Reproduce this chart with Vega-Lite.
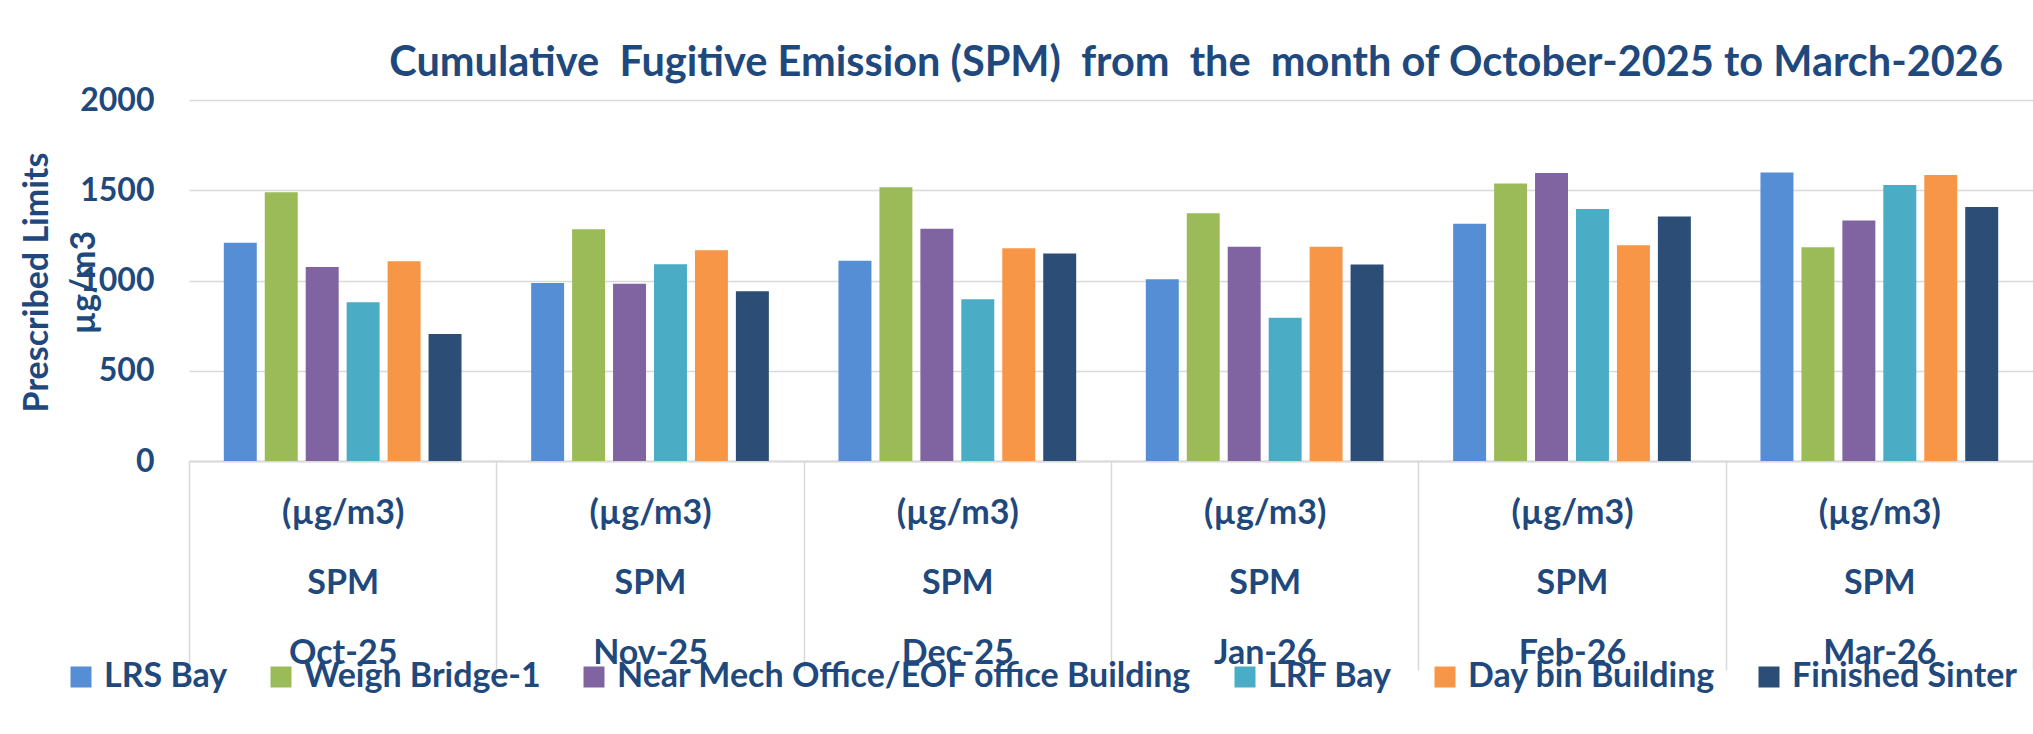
{
  "$schema": "https://vega.github.io/schema/vega-lite/v6.json",
  "autosize": {"type": "none"},
  "padding": {"left": 189, "top": 100, "right": 0, "bottom": 273},
  "width": 1844,
  "height": 361,
  "background": "white",
  "config": {
    "font": "Lato",
    "view": {"stroke": null},
    "text": {"font": "Lato"}
  },
  "title": {
    "text": "Cumulative\u00a0 Fugitive Emission (SPM)\u00a0 from\u00a0 the\u00a0 month of October-2025 to March-2026",
    "anchor": "end",
    "frame": "group",
    "dx": -30,
    "offset": 0,
    "fontSize": 41.5,
    "font": "Lato",
    "fontWeight": "bold",
    "color": "#1F497D"
  },
  "data": {
    "values": [
      {"month": "Oct-25", "site": "LRS Bay", "value": 1209},
      {"month": "Oct-25", "site": "Weigh Bridge-1", "value": 1489},
      {"month": "Oct-25", "site": "Near Mech Office/EOF office Building", "value": 1075},
      {"month": "Oct-25", "site": "LRF Bay", "value": 879},
      {"month": "Oct-25", "site": "Day bin Building", "value": 1106},
      {"month": "Oct-25", "site": "Finished Sinter", "value": 703},
      {"month": "Nov-25", "site": "LRS Bay", "value": 986},
      {"month": "Nov-25", "site": "Weigh Bridge-1", "value": 1284},
      {"month": "Nov-25", "site": "Near Mech Office/EOF office Building", "value": 982},
      {"month": "Nov-25", "site": "LRF Bay", "value": 1090},
      {"month": "Nov-25", "site": "Day bin Building", "value": 1167},
      {"month": "Nov-25", "site": "Finished Sinter", "value": 940},
      {"month": "Dec-25", "site": "LRS Bay", "value": 1110},
      {"month": "Dec-25", "site": "Weigh Bridge-1", "value": 1516},
      {"month": "Dec-25", "site": "Near Mech Office/EOF office Building", "value": 1287},
      {"month": "Dec-25", "site": "LRF Bay", "value": 896},
      {"month": "Dec-25", "site": "Day bin Building", "value": 1178},
      {"month": "Dec-25", "site": "Finished Sinter", "value": 1149},
      {"month": "Jan-26", "site": "LRS Bay", "value": 1007},
      {"month": "Jan-26", "site": "Weigh Bridge-1", "value": 1372},
      {"month": "Jan-26", "site": "Near Mech Office/EOF office Building", "value": 1187},
      {"month": "Jan-26", "site": "LRF Bay", "value": 794},
      {"month": "Jan-26", "site": "Day bin Building", "value": 1187},
      {"month": "Jan-26", "site": "Finished Sinter", "value": 1088},
      {"month": "Feb-26", "site": "LRS Bay", "value": 1315},
      {"month": "Feb-26", "site": "Weigh Bridge-1", "value": 1538},
      {"month": "Feb-26", "site": "Near Mech Office/EOF office Building", "value": 1596},
      {"month": "Feb-26", "site": "LRF Bay", "value": 1396},
      {"month": "Feb-26", "site": "Day bin Building", "value": 1195},
      {"month": "Feb-26", "site": "Finished Sinter", "value": 1354},
      {"month": "Mar-26", "site": "LRS Bay", "value": 1599},
      {"month": "Mar-26", "site": "Weigh Bridge-1", "value": 1184},
      {"month": "Mar-26", "site": "Near Mech Office/EOF office Building", "value": 1333},
      {"month": "Mar-26", "site": "LRF Bay", "value": 1529},
      {"month": "Mar-26", "site": "Day bin Building", "value": 1585},
      {"month": "Mar-26", "site": "Finished Sinter", "value": 1407}
    ]
  },
  "mark": {"type": "bar"},
  "encoding": {
    "x": {
      "field": "month",
      "type": "nominal",
      "sort": ["Oct-25", "Nov-25", "Dec-25", "Jan-26", "Feb-26", "Mar-26"],
      "scale": {"paddingInner": 0, "paddingOuter": 0},
      "axis": {
        "title": null,
        "labelAngle": 0,
        "labelExpr": "datum.label ? ['(µg/m3)', 'SPM', datum.label] : ''",
        "labelLineHeight": 70,
        "labelFontSize": 34,
        "labelFont": "Lato",
        "labelFontWeight": "bold",
        "labelColor": "#1F497D",
        "labelPadding": -174,
        "labelBaseline": "top",
        "labelAlign": "center",
        "tickBand": "extent",
        "tickSize": 209,
        "tickColor": "#D9D9D9",
        "tickWidth": 1.5,
        "domainColor": "#D9D9D9",
        "domainWidth": 2
      }
    },
    "xOffset": {
      "field": "site",
      "type": "nominal",
      "sort": ["LRS Bay", "Weigh Bridge-1", "Near Mech Office/EOF office Building", "LRF Bay", "Day bin Building", "Finished Sinter"],
      "scale": {"paddingInner": 0.195, "paddingOuter": 0.85}
    },
    "y": {
      "field": "value",
      "type": "quantitative",
      "scale": {"domain": [0, 2000]},
      "axis": {
        "values": [0, 500, 1000, 1500, 2000],
        "format": "d",
        "title": ["Prescribed Limits", "µg/m3"],
        "titleFontSize": 34,
        "titleFont": "Lato",
        "titleFontWeight": "bold",
        "titleColor": "#1F497D",
        "titleAngle": -90,
        "titleAlign": "center",
        "titleBaseline": "middle",
        "titleLineHeight": 47,
        "titleX": -152,
        "titleY": 182,
        "labelFontSize": 32,
        "labelFont": "Lato",
        "labelFontWeight": "bold",
        "labelColor": "#1F497D",
        "labelPadding": 35,
        "ticks": false,
        "domain": false,
        "grid": true,
        "gridColor": "#D9D9D9",
        "gridWidth": 1.5
      }
    },
    "color": {
      "field": "site",
      "type": "nominal",
      "scale": {
        "domain": ["LRS Bay", "Weigh Bridge-1", "Near Mech Office/EOF office Building", "LRF Bay", "Day bin Building", "Finished Sinter"],
        "range": ["#558ED5", "#9BBB59", "#8064A2", "#4BACC6", "#F79646", "#2C4D75"]
      },
      "legend": {
        "title": null,
        "orient": "none",
        "direction": "horizontal",
        "legendX": -125,
        "legendY": 560,
        "padding": 0,
        "symbolType": "square",
        "symbolSize": 441,
        "symbolStrokeWidth": 0,
        "symbolOpacity": 1,
        "labelFontSize": 34,
        "labelFont": "Lato",
        "labelFontWeight": "bold",
        "labelColor": "#1F497D",
        "labelOffset": 6,
        "labelLimit": 800,
        "columnPadding": 36
      }
    }
  }
}
